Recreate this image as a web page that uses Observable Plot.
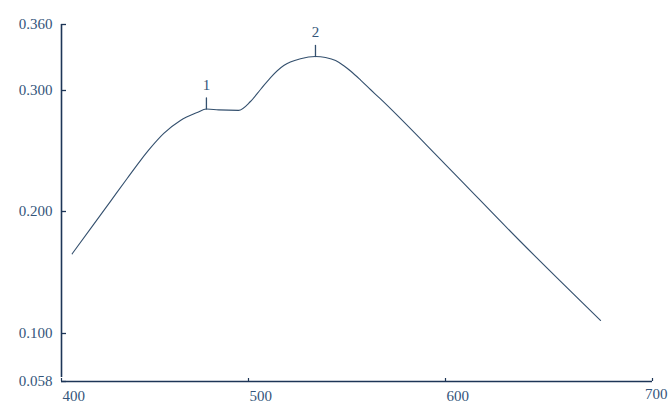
<!DOCTYPE html>
<html>
<head>
<meta charset="utf-8">
<script src="https://cdn.jsdelivr.net/npm/d3@7"></script>
<script src="https://cdn.jsdelivr.net/npm/@observablehq/plot@0.6"></script>
<style>
  html, body { margin: 0; padding: 0; background: #fff; }
  #chart svg { display: block; }
</style>
</head>
<body>
<div id="chart"></div>
<script>
// Wavelength (nm) and absorbance
const wavelength = [405.7, 417.3, 426.2, 435.1, 442.2, 447.6, 454.7, 463.6, 472.6, 477.5, 484.0, 494.7, 501.0, 506.1, 511.2, 517.9, 526.4, 534.0, 539.1, 544.2, 548.2, 551.8, 556.9, 561.9, 567.0, 600.0, 636.2, 674.9];
const absorbance = [0.1653, 0.1896, 0.2084, 0.2273, 0.2421, 0.2525, 0.2645, 0.2752, 0.2818, 0.2847, 0.2840, 0.2836, 0.2909, 0.3009, 0.3118, 0.3227, 0.3288, 0.3309, 0.3300, 0.3273, 0.3227, 0.3177, 0.3095, 0.3009, 0.2930, 0.2388, 0.1754, 0.1107];

// Peak annotations
const peakWavelength = [477.5, 534.0];
const peakAbsorbance = [0.2847, 0.3309];
const peakLabels = ["1", "2"];

// Axis ticks
const xTicks = [400, 500, 600, 700];
const yTicks = [0.058, 0.100, 0.200, 0.300, 0.360];

const curve = wavelength.map((w, i) => ({w, a: absorbance[i]}));
const peaks = peakWavelength.map((w, i) => ({w, a: peakAbsorbance[i], label: peakLabels[i]}));

const ink = "#34557a";
const axisInk = "#1d3557";
const font = "'Liberation Serif', 'DejaVu Serif', serif";

const stem = {
  draw(context, l) {
    context.moveTo(0, 0);
    context.lineTo(0, -l);
  }
};

const chart = Plot.plot({
  width: 668,
  height: 403,
  marginLeft: 61, marginRight: 16, marginTop: 24, marginBottom: 22,
  style: {fontFamily: font, fontSize: "15px", color: ink, background: "#fff"},
  x: {type: "linear", domain: [400, 500, 600, 700], range: [61, 248, 445, 652], label: null},
  y: {type: "linear", domain: [0.058, 0.100, 0.200, 0.300, 0.360], range: [381, 333, 211, 90, 24], label: null},
  marks: [
    // axis lines
    Plot.ruleX([400], {y1: 0.058, y2: 0.360, stroke: axisInk, strokeWidth: 1.6, insetTop: -4}),
    Plot.ruleY([0.058], {x1: 400, x2: 700, stroke: axisInk, strokeWidth: 1.6}),
    // y axis: ticks pointing inward, labels left
    Plot.axisY({ticks: yTicks, tickFormat: d3.format(".3f"), anchor: "left", label: null, tickSize: -5, tickPadding: 14, stroke: axisInk, strokeWidth: 1.3, fill: ink, fontSize: 15}),
    // x axis ticks and labels
    Plot.axisX({ticks: xTicks, anchor: "bottom", label: null, tickSize: -3, text: null, stroke: axisInk, strokeWidth: 1.2}),
    Plot.axisX({ticks: xTicks.slice(0, 3), anchor: "bottom", label: null, tickSize: 0, tickPadding: 9, tickFormat: d3.format("d"), textAnchor: "start", dx: 1, fill: ink, fontSize: 15}),
    Plot.axisX({ticks: xTicks.slice(3), anchor: "bottom", label: null, tickSize: 0, tickPadding: 7, tickFormat: d3.format("d"), textAnchor: "end", dx: 15, fill: ink, fontSize: 15}),
    // spectrum curve
    Plot.line(curve, {x: "w", y: "a", curve: "monotone-x", stroke: "#34506e", strokeWidth: 1.1}),
    // peak stems and labels
    Plot.vector(peaks, {x: "w", y: "a", length: 11, rotate: 0, anchor: "start", shape: stem, stroke: "#34506e", strokeWidth: 1.3}),
    Plot.text(peaks, {x: "w", y: "a", text: "label", dy: -24, fill: ink, fontSize: 15, fontFamily: font})
  ]
});

document.getElementById("chart").appendChild(chart);
</script>
</body>
</html>
